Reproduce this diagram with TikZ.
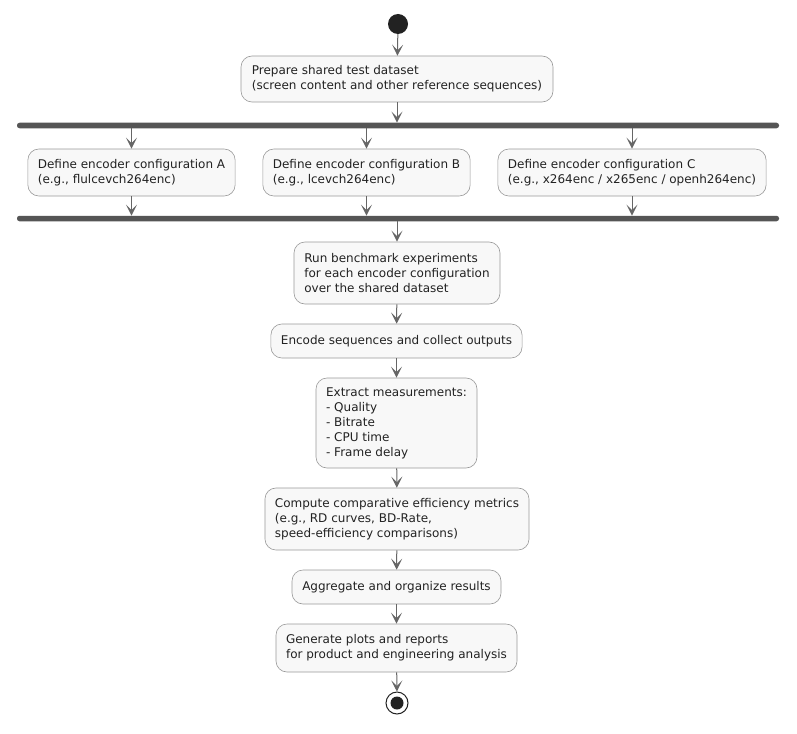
\documentclass[tikz,border=0pt]{standalone}
\usepackage{fontspec}
\setmainfont{DejaVu Sans}
\usetikzlibrary{arrows.meta}
\definecolor{boxfill}{HTML}{F8F8F8}
\definecolor{boxborder}{HTML}{999999}
\definecolor{arrowc}{HTML}{666666}
\definecolor{barc}{HTML}{555555}
\definecolor{txtc}{HTML}{222222}
\definecolor{startc}{HTML}{222222}
\tikzset{
  act/.style={draw=boxborder, fill=boxfill, rounded corners=11pt, align=left,
    font=\fontsize{12}{15}\selectfont, text=txtc, line width=0.6pt,
    inner xsep=10pt, inner ysep=0pt},
  flow/.style={draw=arrowc, line width=1pt, -{Stealth[length=11pt,width=11pt,inset=5.5pt]}},
  forkbar/.style={fill=barc, draw=none, rounded corners=2.5pt, inner sep=0pt, minimum width=762pt, minimum height=5.5pt}
}
\begin{document}
\begin{tikzpicture}[x=1pt,y=-1pt]
\useasboundingbox (0,0) rectangle (797,733);
\fill[white] (0,0) rectangle (797,733);

\node[circle, fill=startc, minimum size=20pt, inner sep=0pt] (start) at (398,24) {};
\node[act, minimum width=312pt, minimum height=46pt] (prep) at (397,79)
  {Prepare shared test dataset\\(screen content and other reference sequences)};
\node[forkbar] (f1) at (398,125.5) {};
\node[act, minimum width=207pt, minimum height=47pt] (ca) at (131.5,172.5)
  {Define encoder configuration A\\(e.g., flulcevch264enc)};
\node[act, minimum width=207pt, minimum height=47pt] (cb) at (366.5,172.5)
  {Define encoder configuration B\\(e.g., lcevch264enc)};
\node[act, minimum width=268pt, minimum height=47pt] (cc) at (632,172.5)
  {Define encoder configuration C\\(e.g., x264enc / x265enc / openh264enc)};
\node[forkbar] (f2) at (398,218.5) {};
\node[act, minimum width=206pt, minimum height=62pt] (run) at (397,273)
  {Run benchmark experiments\\for each encoder configuration\\over the shared dataset};
\node[act, minimum width=251pt, minimum height=34pt] (enc) at (396.5,341)
  {Encode sequences and collect outputs};
\node[act, minimum width=161pt, minimum height=90pt] (ext) at (396.5,423)
  {Extract measurements:\\- Quality\\- Bitrate\\- CPU time\\- Frame delay};
\node[act, minimum width=264pt, minimum height=62pt] (comp) at (397,519)
  {Compute comparative efficiency metrics\\(e.g., RD curves, BD-Rate,\\speed-efficiency comparisons)};
\node[act, minimum width=209pt, minimum height=34pt] (agg) at (396.5,587)
  {Aggregate and organize results};
\node[act, minimum width=241pt, minimum height=48pt] (gen) at (396.5,648)
  {Generate plots and reports\\for product and engineering analysis};
\node[circle, draw=startc, line width=1pt, fill=white, minimum size=22pt, inner sep=0pt] (stop) at (397,703) {};
\fill[startc] (stop.center) circle (6.5pt);

\draw[flow] (start) -- (prep);
\draw[flow] (prep.south) -- (prep.south |- f1.north);
\draw[flow] (ca |- f1.south) -- (ca);
\draw[flow] (cb |- f1.south) -- (cb);
\draw[flow] (cc |- f1.south) -- (cc);
\draw[flow] (ca) -- (ca |- f2.north);
\draw[flow] (cb) -- (cb |- f2.north);
\draw[flow] (cc) -- (cc |- f2.north);
\draw[flow] (run |- f2.south) -- (run);
\draw[flow] (run) -- (enc);
\draw[flow] (enc) -- (ext);
\draw[flow] (ext) -- (comp);
\draw[flow] (comp) -- (agg);
\draw[flow] (agg) -- (gen);
\draw[flow] (gen) -- (stop);
\end{tikzpicture}
\end{document}
